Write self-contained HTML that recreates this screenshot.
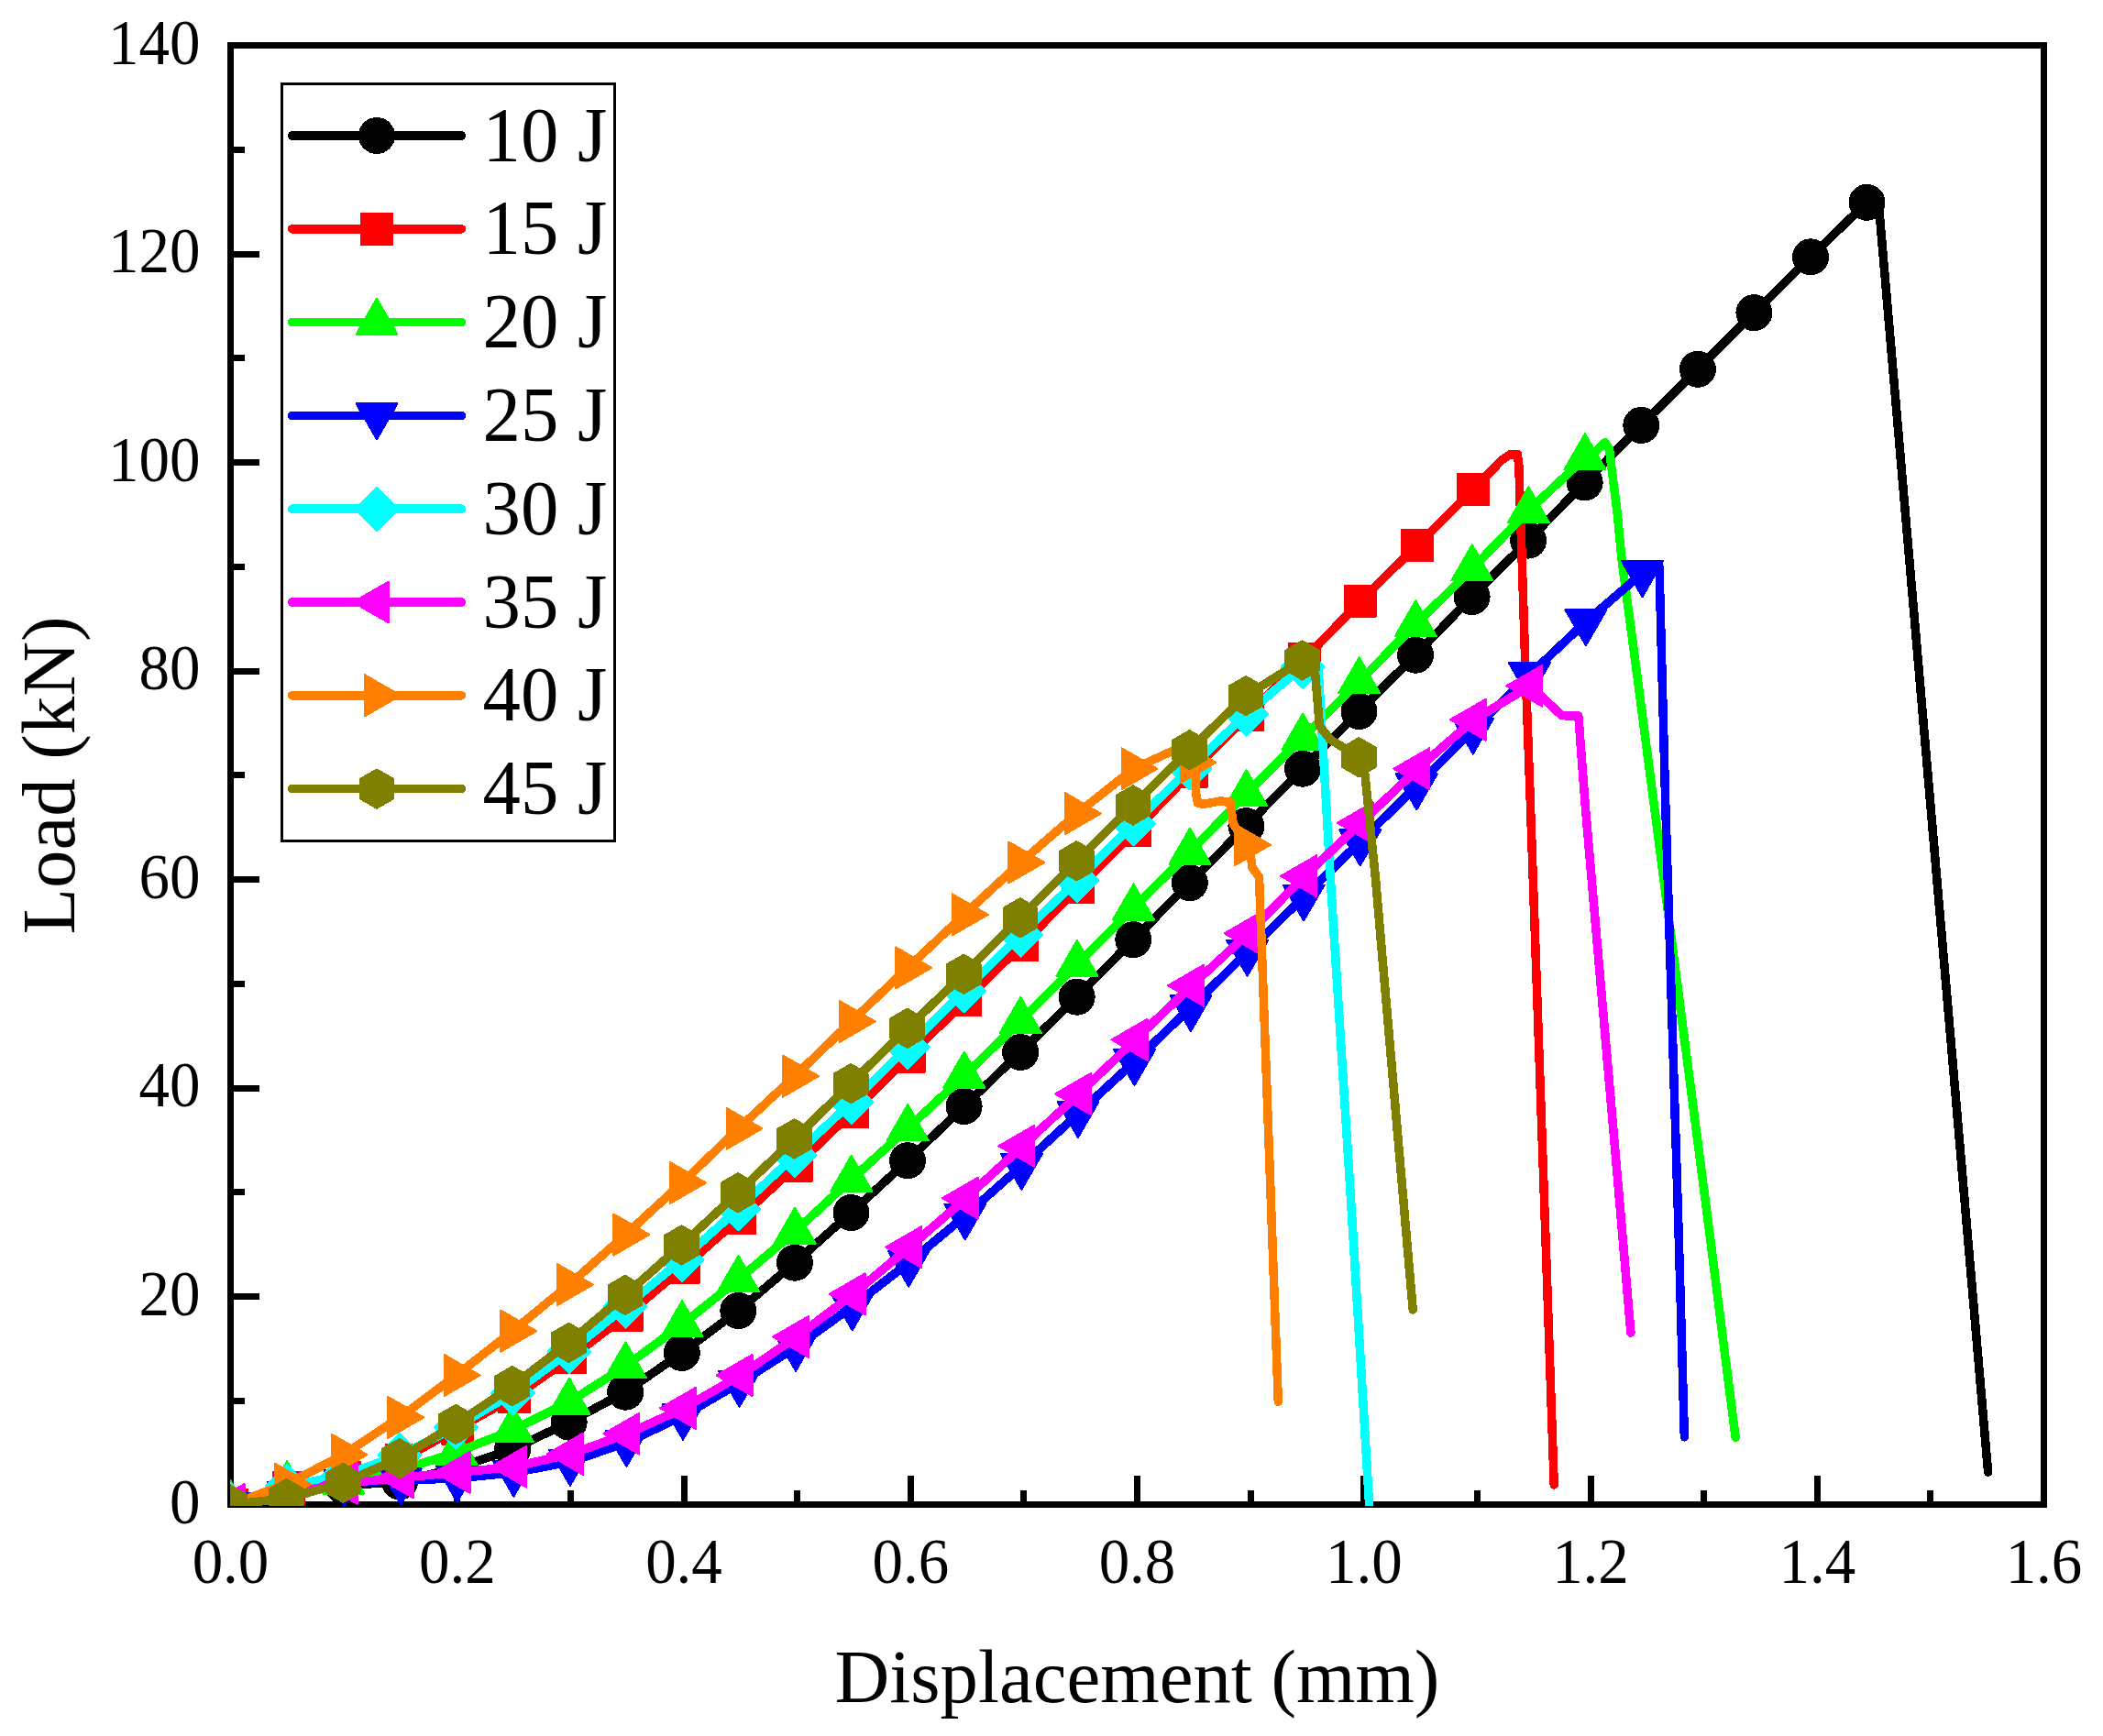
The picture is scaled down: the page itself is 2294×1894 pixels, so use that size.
<!DOCTYPE html>
<html><head><meta charset="utf-8"><title>Load-Displacement</title>
<style>
html,body{margin:0;padding:0;background:#fff;}
body{width:2294px;height:1894px;overflow:hidden;}
svg{display:block;}
text{font-family:"Liberation Serif","Times New Roman",serif;fill:#000;}
.tk{font-size:67px;}
.tt{font-size:82.8px;}
</style></head><body>
<svg width="2294" height="1894" viewBox="0 0 2294 1894">
<rect x="0" y="0" width="2294" height="1894" fill="#fff"/>
<defs><clipPath id="cp"><rect x="251" y="48" width="1980" height="1595"/></clipPath></defs>

<g shape-rendering="crispEdges" stroke="#000" stroke-width="7" fill="none">
<rect x="251.5" y="49.5" width="1978.0" height="1592.0"/>
<line x1="375.12" y1="1641.5" x2="375.12" y2="1626.0"/>
<line x1="498.75" y1="1641.5" x2="498.75" y2="1610.0"/>
<line x1="622.38" y1="1641.5" x2="622.38" y2="1626.0"/>
<line x1="746.00" y1="1641.5" x2="746.00" y2="1610.0"/>
<line x1="869.62" y1="1641.5" x2="869.62" y2="1626.0"/>
<line x1="993.25" y1="1641.5" x2="993.25" y2="1610.0"/>
<line x1="1116.88" y1="1641.5" x2="1116.88" y2="1626.0"/>
<line x1="1240.50" y1="1641.5" x2="1240.50" y2="1610.0"/>
<line x1="1364.12" y1="1641.5" x2="1364.12" y2="1626.0"/>
<line x1="1487.75" y1="1641.5" x2="1487.75" y2="1610.0"/>
<line x1="1611.38" y1="1641.5" x2="1611.38" y2="1626.0"/>
<line x1="1735.00" y1="1641.5" x2="1735.00" y2="1610.0"/>
<line x1="1858.62" y1="1641.5" x2="1858.62" y2="1626.0"/>
<line x1="1982.25" y1="1641.5" x2="1982.25" y2="1610.0"/>
<line x1="2105.88" y1="1641.5" x2="2105.88" y2="1626.0"/>
<line x1="251.5" y1="1528.25" x2="267.0" y2="1528.25"/>
<line x1="251.5" y1="1414.50" x2="283.0" y2="1414.50"/>
<line x1="251.5" y1="1300.75" x2="267.0" y2="1300.75"/>
<line x1="251.5" y1="1187.00" x2="283.0" y2="1187.00"/>
<line x1="251.5" y1="1073.25" x2="267.0" y2="1073.25"/>
<line x1="251.5" y1="959.50" x2="283.0" y2="959.50"/>
<line x1="251.5" y1="845.75" x2="267.0" y2="845.75"/>
<line x1="251.5" y1="732.00" x2="283.0" y2="732.00"/>
<line x1="251.5" y1="618.25" x2="267.0" y2="618.25"/>
<line x1="251.5" y1="504.50" x2="283.0" y2="504.50"/>
<line x1="251.5" y1="390.75" x2="267.0" y2="390.75"/>
<line x1="251.5" y1="277.00" x2="283.0" y2="277.00"/>
<line x1="251.5" y1="163.25" x2="267.0" y2="163.25"/>
</g>
<text class="tk" transform="translate(251.5,1727) scale(1,1.035)" text-anchor="middle">0.0</text>
<text class="tk" transform="translate(498.8,1727) scale(1,1.035)" text-anchor="middle">0.2</text>
<text class="tk" transform="translate(746.0,1727) scale(1,1.035)" text-anchor="middle">0.4</text>
<text class="tk" transform="translate(993.3,1727) scale(1,1.035)" text-anchor="middle">0.6</text>
<text class="tk" transform="translate(1240.5,1727) scale(1,1.035)" text-anchor="middle">0.8</text>
<text class="tk" transform="translate(1487.8,1727) scale(1,1.035)" text-anchor="middle">1.0</text>
<text class="tk" transform="translate(1735.0,1727) scale(1,1.035)" text-anchor="middle">1.2</text>
<text class="tk" transform="translate(1982.3,1727) scale(1,1.035)" text-anchor="middle">1.4</text>
<text class="tk" transform="translate(2229.5,1727) scale(1,1.035)" text-anchor="middle">1.6</text>
<text class="tk" transform="translate(218.5,1662.0) scale(1,1.035)" text-anchor="end">0</text>
<text class="tk" transform="translate(218.5,1434.6) scale(1,1.035)" text-anchor="end">20</text>
<text class="tk" transform="translate(218.5,1207.1) scale(1,1.035)" text-anchor="end">40</text>
<text class="tk" transform="translate(218.5,979.7) scale(1,1.035)" text-anchor="end">60</text>
<text class="tk" transform="translate(218.5,752.3) scale(1,1.035)" text-anchor="end">80</text>
<text class="tk" transform="translate(218.5,524.9) scale(1,1.035)" text-anchor="end">100</text>
<text class="tk" transform="translate(218.5,297.4) scale(1,1.035)" text-anchor="end">120</text>
<text class="tk" transform="translate(218.5,70.0) scale(1,1.035)" text-anchor="end">140</text>
<text class="tt" x="1240.5" y="1857" text-anchor="middle">Displacement (mm)</text>
<text class="tt" transform="translate(81,846) rotate(-90)" text-anchor="middle">Load (kN)</text>
<rect x="307.5" y="91.5" width="363" height="826" fill="#fff" stroke="#000" stroke-width="3" shape-rendering="crispEdges"/>
<g shape-rendering="crispEdges">
<line x1="318.5" y1="148.0" x2="503.5" y2="148.0" stroke="#000000" stroke-width="9.5" stroke-linecap="round"/>
<circle cx="411.0" cy="148.0" r="20" fill="#000000"/>
<line x1="318.5" y1="249.8" x2="503.5" y2="249.8" stroke="#FF0000" stroke-width="9.5" stroke-linecap="round"/>
<rect x="394.0" y="232.8" width="34" height="34" fill="#FF0000" stroke="#FF0000" stroke-width="2" stroke-linejoin="round"/>
<line x1="318.5" y1="351.6" x2="503.5" y2="351.6" stroke="#00FF00" stroke-width="9.5" stroke-linecap="round"/>
<polygon points="411.0,325.6 433.5,364.6 388.5,364.6" fill="#00FF00" stroke="#00FF00" stroke-width="2" stroke-linejoin="round"/>
<line x1="318.5" y1="453.4" x2="503.5" y2="453.4" stroke="#0000FF" stroke-width="9.5" stroke-linecap="round"/>
<polygon points="411.0,479.4 388.5,440.4 433.5,440.4" fill="#0000FF" stroke="#0000FF" stroke-width="2" stroke-linejoin="round"/>
<line x1="318.5" y1="555.2" x2="503.5" y2="555.2" stroke="#00FFFF" stroke-width="9.5" stroke-linecap="round"/>
<polygon points="411.0,531.7 434.5,555.2 411.0,578.7 387.5,555.2" fill="#00FFFF" stroke="#00FFFF" stroke-width="2" stroke-linejoin="round"/>
<line x1="318.5" y1="657.0" x2="503.5" y2="657.0" stroke="#FF00FF" stroke-width="9.5" stroke-linecap="round"/>
<polygon points="385.0,657.0 424.0,634.5 424.0,679.5" fill="#FF00FF" stroke="#FF00FF" stroke-width="2" stroke-linejoin="round"/>
<line x1="318.5" y1="758.8" x2="503.5" y2="758.8" stroke="#FF8000" stroke-width="9.5" stroke-linecap="round"/>
<polygon points="437.0,758.8 398.0,781.3 398.0,736.3" fill="#FF8000" stroke="#FF8000" stroke-width="2" stroke-linejoin="round"/>
<line x1="318.5" y1="860.6" x2="503.5" y2="860.6" stroke="#808000" stroke-width="9.5" stroke-linecap="round"/>
<polygon points="411.0,839.4 429.4,850.0 429.4,871.2 411.0,881.8 392.6,871.2 392.6,850.0" fill="#808000" stroke="#808000" stroke-width="2" stroke-linejoin="round"/>
</g>
<text class="tt" transform="translate(526.5,175.5) scale(1,1.02)">10 J</text>
<text class="tt" transform="translate(526.5,277.3) scale(1,1.02)">15 J</text>
<text class="tt" transform="translate(526.5,379.1) scale(1,1.02)">20 J</text>
<text class="tt" transform="translate(526.5,480.9) scale(1,1.02)">25 J</text>
<text class="tt" transform="translate(526.5,582.7) scale(1,1.02)">30 J</text>
<text class="tt" transform="translate(526.5,684.5) scale(1,1.02)">35 J</text>
<text class="tt" transform="translate(526.5,786.3) scale(1,1.02)">40 J</text>
<text class="tt" transform="translate(526.5,888.1) scale(1,1.02)">45 J</text>
<g clip-path="url(#cp)" shape-rendering="crispEdges">
<path d="M251.3,1641.5 L312.9,1630.1 L374.4,1621.0 L436.0,1616.5 L497.5,1601.7 L559.1,1581.2 L620.7,1551.7 L682.2,1518.7 L743.8,1476.0 L805.3,1430.0 L866.9,1377.7 L928.5,1323.1 L990.0,1266.2 L1051.6,1207.1 L1113.1,1148.0 L1174.7,1087.7 L1236.3,1025.2 L1297.8,963.2 L1359.4,901.2 L1420.9,838.7 L1482.5,776.1 L1544.1,714.7 L1605.6,651.0 L1667.2,589.6 L1728.7,526.4 L1790.3,463.9 L1851.9,402.8 L1913.4,341.2 L1975.0,280.3 L2036.5,220.8 L2049.4,223.5 L2168.6,1606.0" fill="none" stroke="#000000" stroke-width="9.5" stroke-linejoin="round" stroke-linecap="round"/>
<circle cx="251.3" cy="1641.5" r="20" fill="#000000"/>
<circle cx="312.9" cy="1630.1" r="20" fill="#000000"/>
<circle cx="374.4" cy="1621.0" r="20" fill="#000000"/>
<circle cx="436.0" cy="1616.5" r="20" fill="#000000"/>
<circle cx="497.5" cy="1601.7" r="20" fill="#000000"/>
<circle cx="559.1" cy="1581.2" r="20" fill="#000000"/>
<circle cx="620.7" cy="1551.7" r="20" fill="#000000"/>
<circle cx="682.2" cy="1518.7" r="20" fill="#000000"/>
<circle cx="743.8" cy="1476.0" r="20" fill="#000000"/>
<circle cx="805.3" cy="1430.0" r="20" fill="#000000"/>
<circle cx="866.9" cy="1377.7" r="20" fill="#000000"/>
<circle cx="928.5" cy="1323.1" r="20" fill="#000000"/>
<circle cx="990.0" cy="1266.2" r="20" fill="#000000"/>
<circle cx="1051.6" cy="1207.1" r="20" fill="#000000"/>
<circle cx="1113.1" cy="1148.0" r="20" fill="#000000"/>
<circle cx="1174.7" cy="1087.7" r="20" fill="#000000"/>
<circle cx="1236.3" cy="1025.2" r="20" fill="#000000"/>
<circle cx="1297.8" cy="963.2" r="20" fill="#000000"/>
<circle cx="1359.4" cy="901.2" r="20" fill="#000000"/>
<circle cx="1420.9" cy="838.7" r="20" fill="#000000"/>
<circle cx="1482.5" cy="776.1" r="20" fill="#000000"/>
<circle cx="1544.1" cy="714.7" r="20" fill="#000000"/>
<circle cx="1605.6" cy="651.0" r="20" fill="#000000"/>
<circle cx="1667.2" cy="589.6" r="20" fill="#000000"/>
<circle cx="1728.7" cy="526.4" r="20" fill="#000000"/>
<circle cx="1790.3" cy="463.9" r="20" fill="#000000"/>
<circle cx="1851.9" cy="402.8" r="20" fill="#000000"/>
<circle cx="1913.4" cy="341.2" r="20" fill="#000000"/>
<circle cx="1975.0" cy="280.3" r="20" fill="#000000"/>
<circle cx="2036.5" cy="220.8" r="20" fill="#000000"/>
<path d="M253.0,1641.5 L314.6,1623.3 L376.1,1611.9 L437.7,1592.6 L499.2,1558.5 L560.8,1524.4 L622.4,1481.2 L683.9,1434.5 L745.5,1382.8 L807.0,1328.8 L868.6,1271.9 L930.2,1212.8 L991.7,1152.5 L1053.3,1091.1 L1114.8,1030.9 L1176.4,968.3 L1238.0,906.3 L1299.5,842.1 L1361.1,780.1 L1422.6,719.3 L1484.2,655.6 L1545.8,594.8 L1607.3,533.9 L1638.0,502.1 L1647.2,495.8 L1655.3,495.8 L1656.9,508.9 L1663.5,714.7 L1669.5,879.8 L1685.7,1343.6 L1695.2,1619.9" fill="none" stroke="#FF0000" stroke-width="9.5" stroke-linejoin="round" stroke-linecap="round"/>
<rect x="236.0" y="1624.5" width="34" height="34" fill="#FF0000" stroke="#FF0000" stroke-width="2" stroke-linejoin="round"/>
<rect x="297.6" y="1606.3" width="34" height="34" fill="#FF0000" stroke="#FF0000" stroke-width="2" stroke-linejoin="round"/>
<rect x="359.1" y="1594.9" width="34" height="34" fill="#FF0000" stroke="#FF0000" stroke-width="2" stroke-linejoin="round"/>
<rect x="420.7" y="1575.6" width="34" height="34" fill="#FF0000" stroke="#FF0000" stroke-width="2" stroke-linejoin="round"/>
<rect x="482.2" y="1541.5" width="34" height="34" fill="#FF0000" stroke="#FF0000" stroke-width="2" stroke-linejoin="round"/>
<rect x="543.8" y="1507.4" width="34" height="34" fill="#FF0000" stroke="#FF0000" stroke-width="2" stroke-linejoin="round"/>
<rect x="605.4" y="1464.2" width="34" height="34" fill="#FF0000" stroke="#FF0000" stroke-width="2" stroke-linejoin="round"/>
<rect x="666.9" y="1417.5" width="34" height="34" fill="#FF0000" stroke="#FF0000" stroke-width="2" stroke-linejoin="round"/>
<rect x="728.5" y="1365.8" width="34" height="34" fill="#FF0000" stroke="#FF0000" stroke-width="2" stroke-linejoin="round"/>
<rect x="790.0" y="1311.8" width="34" height="34" fill="#FF0000" stroke="#FF0000" stroke-width="2" stroke-linejoin="round"/>
<rect x="851.6" y="1254.9" width="34" height="34" fill="#FF0000" stroke="#FF0000" stroke-width="2" stroke-linejoin="round"/>
<rect x="913.2" y="1195.8" width="34" height="34" fill="#FF0000" stroke="#FF0000" stroke-width="2" stroke-linejoin="round"/>
<rect x="974.7" y="1135.5" width="34" height="34" fill="#FF0000" stroke="#FF0000" stroke-width="2" stroke-linejoin="round"/>
<rect x="1036.3" y="1074.1" width="34" height="34" fill="#FF0000" stroke="#FF0000" stroke-width="2" stroke-linejoin="round"/>
<rect x="1097.8" y="1013.9" width="34" height="34" fill="#FF0000" stroke="#FF0000" stroke-width="2" stroke-linejoin="round"/>
<rect x="1159.4" y="951.3" width="34" height="34" fill="#FF0000" stroke="#FF0000" stroke-width="2" stroke-linejoin="round"/>
<rect x="1221.0" y="889.3" width="34" height="34" fill="#FF0000" stroke="#FF0000" stroke-width="2" stroke-linejoin="round"/>
<rect x="1282.5" y="825.1" width="34" height="34" fill="#FF0000" stroke="#FF0000" stroke-width="2" stroke-linejoin="round"/>
<rect x="1344.1" y="763.1" width="34" height="34" fill="#FF0000" stroke="#FF0000" stroke-width="2" stroke-linejoin="round"/>
<rect x="1405.6" y="702.3" width="34" height="34" fill="#FF0000" stroke="#FF0000" stroke-width="2" stroke-linejoin="round"/>
<rect x="1467.2" y="638.6" width="34" height="34" fill="#FF0000" stroke="#FF0000" stroke-width="2" stroke-linejoin="round"/>
<rect x="1528.8" y="577.8" width="34" height="34" fill="#FF0000" stroke="#FF0000" stroke-width="2" stroke-linejoin="round"/>
<rect x="1590.3" y="516.9" width="34" height="34" fill="#FF0000" stroke="#FF0000" stroke-width="2" stroke-linejoin="round"/>
<path d="M251.5,1641.5 L313.1,1620.2 L374.6,1616.5 L436.2,1604.0 L497.7,1584.6 L559.3,1560.2 L620.9,1529.7 L682.4,1490.3 L744.0,1445.2 L805.5,1395.9 L867.1,1343.6 L928.7,1286.7 L990.2,1231.0 L1051.8,1173.6 L1113.3,1113.9 L1174.9,1051.9 L1236.5,990.5 L1298.0,929.6 L1359.6,866.0 L1421.1,804.6 L1482.7,743.2 L1544.3,681.2 L1605.8,620.3 L1667.4,557.2 L1728.9,499.2 L1742.4,490.7 L1750.9,482.8 L1755.4,489.6 L1757.9,510.0 L1764.2,560.1 L1769.0,610.1 L1786.2,739.7 L1804.5,879.8 L1864.6,1343.6 L1893.1,1568.3" fill="none" stroke="#00FF00" stroke-width="9.5" stroke-linejoin="round" stroke-linecap="round"/>
<polygon points="251.5,1615.5 274.0,1654.5 229.0,1654.5" fill="#00FF00" stroke="#00FF00" stroke-width="2" stroke-linejoin="round"/>
<polygon points="313.1,1594.2 335.6,1633.2 290.5,1633.2" fill="#00FF00" stroke="#00FF00" stroke-width="2" stroke-linejoin="round"/>
<polygon points="374.6,1590.5 397.1,1629.5 352.1,1629.5" fill="#00FF00" stroke="#00FF00" stroke-width="2" stroke-linejoin="round"/>
<polygon points="436.2,1578.0 458.7,1617.0 413.7,1617.0" fill="#00FF00" stroke="#00FF00" stroke-width="2" stroke-linejoin="round"/>
<polygon points="497.7,1558.6 520.3,1597.6 475.2,1597.6" fill="#00FF00" stroke="#00FF00" stroke-width="2" stroke-linejoin="round"/>
<polygon points="559.3,1534.2 581.8,1573.2 536.8,1573.2" fill="#00FF00" stroke="#00FF00" stroke-width="2" stroke-linejoin="round"/>
<polygon points="620.9,1503.7 643.4,1542.7 598.3,1542.7" fill="#00FF00" stroke="#00FF00" stroke-width="2" stroke-linejoin="round"/>
<polygon points="682.4,1464.3 704.9,1503.3 659.9,1503.3" fill="#00FF00" stroke="#00FF00" stroke-width="2" stroke-linejoin="round"/>
<polygon points="744.0,1419.2 766.5,1458.2 721.5,1458.2" fill="#00FF00" stroke="#00FF00" stroke-width="2" stroke-linejoin="round"/>
<polygon points="805.5,1369.9 828.1,1408.9 783.0,1408.9" fill="#00FF00" stroke="#00FF00" stroke-width="2" stroke-linejoin="round"/>
<polygon points="867.1,1317.6 889.6,1356.6 844.6,1356.6" fill="#00FF00" stroke="#00FF00" stroke-width="2" stroke-linejoin="round"/>
<polygon points="928.7,1260.7 951.2,1299.7 906.1,1299.7" fill="#00FF00" stroke="#00FF00" stroke-width="2" stroke-linejoin="round"/>
<polygon points="990.2,1205.0 1012.7,1244.0 967.7,1244.0" fill="#00FF00" stroke="#00FF00" stroke-width="2" stroke-linejoin="round"/>
<polygon points="1051.8,1147.6 1074.3,1186.6 1029.3,1186.6" fill="#00FF00" stroke="#00FF00" stroke-width="2" stroke-linejoin="round"/>
<polygon points="1113.3,1087.9 1135.9,1126.9 1090.8,1126.9" fill="#00FF00" stroke="#00FF00" stroke-width="2" stroke-linejoin="round"/>
<polygon points="1174.9,1025.9 1197.4,1064.9 1152.4,1064.9" fill="#00FF00" stroke="#00FF00" stroke-width="2" stroke-linejoin="round"/>
<polygon points="1236.5,964.5 1259.0,1003.5 1213.9,1003.5" fill="#00FF00" stroke="#00FF00" stroke-width="2" stroke-linejoin="round"/>
<polygon points="1298.0,903.6 1320.5,942.6 1275.5,942.6" fill="#00FF00" stroke="#00FF00" stroke-width="2" stroke-linejoin="round"/>
<polygon points="1359.6,840.0 1382.1,879.0 1337.1,879.0" fill="#00FF00" stroke="#00FF00" stroke-width="2" stroke-linejoin="round"/>
<polygon points="1421.1,778.6 1443.7,817.6 1398.6,817.6" fill="#00FF00" stroke="#00FF00" stroke-width="2" stroke-linejoin="round"/>
<polygon points="1482.7,717.2 1505.2,756.2 1460.2,756.2" fill="#00FF00" stroke="#00FF00" stroke-width="2" stroke-linejoin="round"/>
<polygon points="1544.3,655.2 1566.8,694.2 1521.7,694.2" fill="#00FF00" stroke="#00FF00" stroke-width="2" stroke-linejoin="round"/>
<polygon points="1605.8,594.3 1628.3,633.3 1583.3,633.3" fill="#00FF00" stroke="#00FF00" stroke-width="2" stroke-linejoin="round"/>
<polygon points="1667.4,531.2 1689.9,570.2 1644.9,570.2" fill="#00FF00" stroke="#00FF00" stroke-width="2" stroke-linejoin="round"/>
<polygon points="1728.9,473.2 1751.5,512.2 1706.4,512.2" fill="#00FF00" stroke="#00FF00" stroke-width="2" stroke-linejoin="round"/>
<path d="M252.5,1641.5 L314.1,1630.1 L375.6,1616.5 L437.2,1615.3 L498.7,1612.8 L560.3,1606.7 L621.9,1594.9 L683.4,1574.0 L745.0,1544.8 L806.5,1508.9 L868.1,1469.8 L929.7,1425.4 L991.2,1377.7 L1052.8,1326.5 L1114.3,1271.9 L1175.9,1215.1 L1237.5,1158.2 L1299.0,1099.1 L1360.6,1038.8 L1422.1,978.5 L1483.7,918.3 L1545.3,857.4 L1606.8,796.6 L1668.4,736.3 L1729.9,678.3 L1791.5,625.3 L1810.0,618.1 L1816.8,879.8 L1831.3,1351.5 L1837.4,1567.9" fill="none" stroke="#0000FF" stroke-width="9.5" stroke-linejoin="round" stroke-linecap="round"/>
<polygon points="252.5,1667.5 230.0,1628.5 275.0,1628.5" fill="#0000FF" stroke="#0000FF" stroke-width="2" stroke-linejoin="round"/>
<polygon points="314.1,1656.1 291.5,1617.1 336.6,1617.1" fill="#0000FF" stroke="#0000FF" stroke-width="2" stroke-linejoin="round"/>
<polygon points="375.6,1642.5 353.1,1603.5 398.1,1603.5" fill="#0000FF" stroke="#0000FF" stroke-width="2" stroke-linejoin="round"/>
<polygon points="437.2,1641.3 414.7,1602.3 459.7,1602.3" fill="#0000FF" stroke="#0000FF" stroke-width="2" stroke-linejoin="round"/>
<polygon points="498.7,1638.8 476.2,1599.8 521.3,1599.8" fill="#0000FF" stroke="#0000FF" stroke-width="2" stroke-linejoin="round"/>
<polygon points="560.3,1632.7 537.8,1593.7 582.8,1593.7" fill="#0000FF" stroke="#0000FF" stroke-width="2" stroke-linejoin="round"/>
<polygon points="621.9,1620.9 599.3,1581.9 644.4,1581.9" fill="#0000FF" stroke="#0000FF" stroke-width="2" stroke-linejoin="round"/>
<polygon points="683.4,1600.0 660.9,1561.0 705.9,1561.0" fill="#0000FF" stroke="#0000FF" stroke-width="2" stroke-linejoin="round"/>
<polygon points="745.0,1570.8 722.5,1531.8 767.5,1531.8" fill="#0000FF" stroke="#0000FF" stroke-width="2" stroke-linejoin="round"/>
<polygon points="806.5,1534.9 784.0,1495.9 829.1,1495.9" fill="#0000FF" stroke="#0000FF" stroke-width="2" stroke-linejoin="round"/>
<polygon points="868.1,1495.8 845.6,1456.8 890.6,1456.8" fill="#0000FF" stroke="#0000FF" stroke-width="2" stroke-linejoin="round"/>
<polygon points="929.7,1451.4 907.1,1412.4 952.2,1412.4" fill="#0000FF" stroke="#0000FF" stroke-width="2" stroke-linejoin="round"/>
<polygon points="991.2,1403.7 968.7,1364.7 1013.7,1364.7" fill="#0000FF" stroke="#0000FF" stroke-width="2" stroke-linejoin="round"/>
<polygon points="1052.8,1352.5 1030.3,1313.5 1075.3,1313.5" fill="#0000FF" stroke="#0000FF" stroke-width="2" stroke-linejoin="round"/>
<polygon points="1114.3,1297.9 1091.8,1258.9 1136.9,1258.9" fill="#0000FF" stroke="#0000FF" stroke-width="2" stroke-linejoin="round"/>
<polygon points="1175.9,1241.1 1153.4,1202.1 1198.4,1202.1" fill="#0000FF" stroke="#0000FF" stroke-width="2" stroke-linejoin="round"/>
<polygon points="1237.5,1184.2 1214.9,1145.2 1260.0,1145.2" fill="#0000FF" stroke="#0000FF" stroke-width="2" stroke-linejoin="round"/>
<polygon points="1299.0,1125.1 1276.5,1086.1 1321.5,1086.1" fill="#0000FF" stroke="#0000FF" stroke-width="2" stroke-linejoin="round"/>
<polygon points="1360.6,1064.8 1338.1,1025.8 1383.1,1025.8" fill="#0000FF" stroke="#0000FF" stroke-width="2" stroke-linejoin="round"/>
<polygon points="1422.1,1004.5 1399.6,965.5 1444.7,965.5" fill="#0000FF" stroke="#0000FF" stroke-width="2" stroke-linejoin="round"/>
<polygon points="1483.7,944.3 1461.2,905.3 1506.2,905.3" fill="#0000FF" stroke="#0000FF" stroke-width="2" stroke-linejoin="round"/>
<polygon points="1545.3,883.4 1522.7,844.4 1567.8,844.4" fill="#0000FF" stroke="#0000FF" stroke-width="2" stroke-linejoin="round"/>
<polygon points="1606.8,822.6 1584.3,783.6 1629.3,783.6" fill="#0000FF" stroke="#0000FF" stroke-width="2" stroke-linejoin="round"/>
<polygon points="1668.4,762.3 1645.9,723.3 1690.9,723.3" fill="#0000FF" stroke="#0000FF" stroke-width="2" stroke-linejoin="round"/>
<polygon points="1729.9,704.3 1707.4,665.3 1752.5,665.3" fill="#0000FF" stroke="#0000FF" stroke-width="2" stroke-linejoin="round"/>
<polygon points="1791.5,651.3 1769.0,612.3 1814.0,612.3" fill="#0000FF" stroke="#0000FF" stroke-width="2" stroke-linejoin="round"/>
<path d="M251.5,1641.5 L313.1,1621.6 L374.6,1609.7 L436.2,1587.5 L497.7,1556.8 L559.3,1520.2 L620.9,1474.9 L682.4,1425.4 L744.0,1374.3 L805.5,1318.6 L867.1,1260.6 L928.7,1202.6 L990.2,1142.3 L1051.8,1080.9 L1113.3,1020.1 L1174.9,960.4 L1236.5,898.9 L1298.0,838.1 L1359.6,779.0 L1421.1,727.2 L1438.1,729.5 L1443.9,830.1 L1451.4,959.9 L1475.5,1340.2 L1493.6,1641.5 L1495.7,1675.6" fill="none" stroke="#00FFFF" stroke-width="9.5" stroke-linejoin="round" stroke-linecap="round"/>
<polygon points="251.5,1618.0 275.0,1641.5 251.5,1665.0 228.0,1641.5" fill="#00FFFF" stroke="#00FFFF" stroke-width="2" stroke-linejoin="round"/>
<polygon points="313.1,1598.1 336.6,1621.6 313.1,1645.1 289.6,1621.6" fill="#00FFFF" stroke="#00FFFF" stroke-width="2" stroke-linejoin="round"/>
<polygon points="374.6,1586.2 398.1,1609.7 374.6,1633.2 351.1,1609.7" fill="#00FFFF" stroke="#00FFFF" stroke-width="2" stroke-linejoin="round"/>
<polygon points="436.2,1564.0 459.7,1587.5 436.2,1611.0 412.7,1587.5" fill="#00FFFF" stroke="#00FFFF" stroke-width="2" stroke-linejoin="round"/>
<polygon points="497.7,1533.3 521.2,1556.8 497.7,1580.3 474.2,1556.8" fill="#00FFFF" stroke="#00FFFF" stroke-width="2" stroke-linejoin="round"/>
<polygon points="559.3,1496.7 582.8,1520.2 559.3,1543.7 535.8,1520.2" fill="#00FFFF" stroke="#00FFFF" stroke-width="2" stroke-linejoin="round"/>
<polygon points="620.9,1451.4 644.4,1474.9 620.9,1498.4 597.4,1474.9" fill="#00FFFF" stroke="#00FFFF" stroke-width="2" stroke-linejoin="round"/>
<polygon points="682.4,1401.9 705.9,1425.4 682.4,1448.9 658.9,1425.4" fill="#00FFFF" stroke="#00FFFF" stroke-width="2" stroke-linejoin="round"/>
<polygon points="744.0,1350.8 767.5,1374.3 744.0,1397.8 720.5,1374.3" fill="#00FFFF" stroke="#00FFFF" stroke-width="2" stroke-linejoin="round"/>
<polygon points="805.5,1295.1 829.0,1318.6 805.5,1342.1 782.0,1318.6" fill="#00FFFF" stroke="#00FFFF" stroke-width="2" stroke-linejoin="round"/>
<polygon points="867.1,1237.1 890.6,1260.6 867.1,1284.1 843.6,1260.6" fill="#00FFFF" stroke="#00FFFF" stroke-width="2" stroke-linejoin="round"/>
<polygon points="928.7,1179.1 952.2,1202.6 928.7,1226.1 905.2,1202.6" fill="#00FFFF" stroke="#00FFFF" stroke-width="2" stroke-linejoin="round"/>
<polygon points="990.2,1118.8 1013.7,1142.3 990.2,1165.8 966.7,1142.3" fill="#00FFFF" stroke="#00FFFF" stroke-width="2" stroke-linejoin="round"/>
<polygon points="1051.8,1057.4 1075.3,1080.9 1051.8,1104.4 1028.3,1080.9" fill="#00FFFF" stroke="#00FFFF" stroke-width="2" stroke-linejoin="round"/>
<polygon points="1113.3,996.6 1136.8,1020.1 1113.3,1043.6 1089.8,1020.1" fill="#00FFFF" stroke="#00FFFF" stroke-width="2" stroke-linejoin="round"/>
<polygon points="1174.9,936.9 1198.4,960.4 1174.9,983.9 1151.4,960.4" fill="#00FFFF" stroke="#00FFFF" stroke-width="2" stroke-linejoin="round"/>
<polygon points="1236.5,875.4 1260.0,898.9 1236.5,922.4 1213.0,898.9" fill="#00FFFF" stroke="#00FFFF" stroke-width="2" stroke-linejoin="round"/>
<polygon points="1298.0,814.6 1321.5,838.1 1298.0,861.6 1274.5,838.1" fill="#00FFFF" stroke="#00FFFF" stroke-width="2" stroke-linejoin="round"/>
<polygon points="1359.6,755.5 1383.1,779.0 1359.6,802.5 1336.1,779.0" fill="#00FFFF" stroke="#00FFFF" stroke-width="2" stroke-linejoin="round"/>
<polygon points="1421.1,703.7 1444.6,727.2 1421.1,750.7 1397.6,727.2" fill="#00FFFF" stroke="#00FFFF" stroke-width="2" stroke-linejoin="round"/>
<path d="M253.5,1641.5 L315.1,1629.0 L376.6,1618.4 L438.2,1612.0 L499.7,1606.4 L561.3,1600.2 L622.9,1586.2 L684.4,1564.2 L746.0,1536.3 L807.5,1500.5 L869.1,1458.4 L930.7,1411.8 L992.2,1360.6 L1053.8,1307.2 L1115.3,1250.3 L1176.9,1193.5 L1238.5,1134.3 L1300.0,1075.2 L1361.6,1018.3 L1423.1,955.8 L1484.7,897.8 L1546.3,838.7 L1607.8,785.2 L1669.4,748.3 L1703.6,780.7 L1721.8,781.0 L1729.3,879.8 L1769.4,1342.4 L1778.9,1454.1" fill="none" stroke="#FF00FF" stroke-width="9.5" stroke-linejoin="round" stroke-linecap="round"/>
<polygon points="227.5,1641.5 266.5,1619.0 266.5,1664.0" fill="#FF00FF" stroke="#FF00FF" stroke-width="2" stroke-linejoin="round"/>
<polygon points="289.1,1629.0 328.1,1606.5 328.1,1651.5" fill="#FF00FF" stroke="#FF00FF" stroke-width="2" stroke-linejoin="round"/>
<polygon points="350.6,1618.4 389.6,1595.9 389.6,1640.9" fill="#FF00FF" stroke="#FF00FF" stroke-width="2" stroke-linejoin="round"/>
<polygon points="412.2,1612.0 451.2,1589.5 451.2,1634.6" fill="#FF00FF" stroke="#FF00FF" stroke-width="2" stroke-linejoin="round"/>
<polygon points="473.7,1606.4 512.7,1583.8 512.7,1628.9" fill="#FF00FF" stroke="#FF00FF" stroke-width="2" stroke-linejoin="round"/>
<polygon points="535.3,1600.2 574.3,1577.7 574.3,1622.7" fill="#FF00FF" stroke="#FF00FF" stroke-width="2" stroke-linejoin="round"/>
<polygon points="596.9,1586.2 635.9,1563.7 635.9,1608.8" fill="#FF00FF" stroke="#FF00FF" stroke-width="2" stroke-linejoin="round"/>
<polygon points="658.4,1564.2 697.4,1541.7 697.4,1586.7" fill="#FF00FF" stroke="#FF00FF" stroke-width="2" stroke-linejoin="round"/>
<polygon points="720.0,1536.3 759.0,1513.8 759.0,1558.8" fill="#FF00FF" stroke="#FF00FF" stroke-width="2" stroke-linejoin="round"/>
<polygon points="781.5,1500.5 820.5,1478.0 820.5,1523.0" fill="#FF00FF" stroke="#FF00FF" stroke-width="2" stroke-linejoin="round"/>
<polygon points="843.1,1458.4 882.1,1435.9 882.1,1480.9" fill="#FF00FF" stroke="#FF00FF" stroke-width="2" stroke-linejoin="round"/>
<polygon points="904.7,1411.8 943.7,1389.3 943.7,1434.3" fill="#FF00FF" stroke="#FF00FF" stroke-width="2" stroke-linejoin="round"/>
<polygon points="966.2,1360.6 1005.2,1338.1 1005.2,1383.1" fill="#FF00FF" stroke="#FF00FF" stroke-width="2" stroke-linejoin="round"/>
<polygon points="1027.8,1307.2 1066.8,1284.7 1066.8,1329.7" fill="#FF00FF" stroke="#FF00FF" stroke-width="2" stroke-linejoin="round"/>
<polygon points="1089.3,1250.3 1128.3,1227.8 1128.3,1272.8" fill="#FF00FF" stroke="#FF00FF" stroke-width="2" stroke-linejoin="round"/>
<polygon points="1150.9,1193.5 1189.9,1170.9 1189.9,1216.0" fill="#FF00FF" stroke="#FF00FF" stroke-width="2" stroke-linejoin="round"/>
<polygon points="1212.5,1134.3 1251.5,1111.8 1251.5,1156.9" fill="#FF00FF" stroke="#FF00FF" stroke-width="2" stroke-linejoin="round"/>
<polygon points="1274.0,1075.2 1313.0,1052.7 1313.0,1097.7" fill="#FF00FF" stroke="#FF00FF" stroke-width="2" stroke-linejoin="round"/>
<polygon points="1335.6,1018.3 1374.6,995.8 1374.6,1040.9" fill="#FF00FF" stroke="#FF00FF" stroke-width="2" stroke-linejoin="round"/>
<polygon points="1397.1,955.8 1436.1,933.3 1436.1,978.3" fill="#FF00FF" stroke="#FF00FF" stroke-width="2" stroke-linejoin="round"/>
<polygon points="1458.7,897.8 1497.7,875.3 1497.7,920.3" fill="#FF00FF" stroke="#FF00FF" stroke-width="2" stroke-linejoin="round"/>
<polygon points="1520.3,838.7 1559.3,816.2 1559.3,861.2" fill="#FF00FF" stroke="#FF00FF" stroke-width="2" stroke-linejoin="round"/>
<polygon points="1581.8,785.2 1620.8,762.7 1620.8,807.7" fill="#FF00FF" stroke="#FF00FF" stroke-width="2" stroke-linejoin="round"/>
<polygon points="1643.4,748.3 1682.4,725.8 1682.4,770.8" fill="#FF00FF" stroke="#FF00FF" stroke-width="2" stroke-linejoin="round"/>
<path d="M251.5,1641.5 L313.1,1619.2 L374.6,1587.1 L436.2,1546.4 L497.7,1500.5 L559.3,1452.2 L620.9,1401.6 L682.4,1347.0 L744.0,1290.5 L805.5,1231.3 L867.1,1174.1 L928.7,1114.4 L990.2,1055.9 L1051.8,997.9 L1113.3,941.0 L1174.9,887.6 L1236.5,838.7 L1283.8,817.1 L1300.5,831.9 L1304.4,845.5 L1304.4,864.8 L1306.6,876.2 L1312.9,877.3 L1331.5,873.9 L1341.9,875.1 L1345.3,898.9 L1360.0,921.7 L1365.0,938.2 L1366.1,946.7 L1373.5,956.9 L1394.3,1529.3" fill="none" stroke="#FF8000" stroke-width="9.5" stroke-linejoin="round" stroke-linecap="round"/>
<polygon points="277.5,1641.5 238.5,1664.0 238.5,1619.0" fill="#FF8000" stroke="#FF8000" stroke-width="2" stroke-linejoin="round"/>
<polygon points="339.1,1619.2 300.1,1641.7 300.1,1596.7" fill="#FF8000" stroke="#FF8000" stroke-width="2" stroke-linejoin="round"/>
<polygon points="400.6,1587.1 361.6,1609.7 361.6,1564.6" fill="#FF8000" stroke="#FF8000" stroke-width="2" stroke-linejoin="round"/>
<polygon points="462.2,1546.4 423.2,1569.0 423.2,1523.9" fill="#FF8000" stroke="#FF8000" stroke-width="2" stroke-linejoin="round"/>
<polygon points="523.7,1500.5 484.7,1523.0 484.7,1478.0" fill="#FF8000" stroke="#FF8000" stroke-width="2" stroke-linejoin="round"/>
<polygon points="585.3,1452.2 546.3,1474.7 546.3,1429.6" fill="#FF8000" stroke="#FF8000" stroke-width="2" stroke-linejoin="round"/>
<polygon points="646.9,1401.6 607.9,1424.1 607.9,1379.0" fill="#FF8000" stroke="#FF8000" stroke-width="2" stroke-linejoin="round"/>
<polygon points="708.4,1347.0 669.4,1369.5 669.4,1324.5" fill="#FF8000" stroke="#FF8000" stroke-width="2" stroke-linejoin="round"/>
<polygon points="770.0,1290.5 731.0,1313.0 731.0,1267.9" fill="#FF8000" stroke="#FF8000" stroke-width="2" stroke-linejoin="round"/>
<polygon points="831.5,1231.3 792.5,1253.8 792.5,1208.8" fill="#FF8000" stroke="#FF8000" stroke-width="2" stroke-linejoin="round"/>
<polygon points="893.1,1174.1 854.1,1196.7 854.1,1151.6" fill="#FF8000" stroke="#FF8000" stroke-width="2" stroke-linejoin="round"/>
<polygon points="954.7,1114.4 915.7,1137.0 915.7,1091.9" fill="#FF8000" stroke="#FF8000" stroke-width="2" stroke-linejoin="round"/>
<polygon points="1016.2,1055.9 977.2,1078.4 977.2,1033.4" fill="#FF8000" stroke="#FF8000" stroke-width="2" stroke-linejoin="round"/>
<polygon points="1077.8,997.9 1038.8,1020.4 1038.8,975.4" fill="#FF8000" stroke="#FF8000" stroke-width="2" stroke-linejoin="round"/>
<polygon points="1139.3,941.0 1100.3,963.5 1100.3,918.5" fill="#FF8000" stroke="#FF8000" stroke-width="2" stroke-linejoin="round"/>
<polygon points="1200.9,887.6 1161.9,910.1 1161.9,865.1" fill="#FF8000" stroke="#FF8000" stroke-width="2" stroke-linejoin="round"/>
<polygon points="1262.5,838.7 1223.5,861.2 1223.5,816.2" fill="#FF8000" stroke="#FF8000" stroke-width="2" stroke-linejoin="round"/>
<polygon points="1326.5,831.9 1287.5,854.4 1287.5,809.3" fill="#FF8000" stroke="#FF8000" stroke-width="2" stroke-linejoin="round"/>
<polygon points="1386.0,921.7 1347.0,944.2 1347.0,899.2" fill="#FF8000" stroke="#FF8000" stroke-width="2" stroke-linejoin="round"/>
<path d="M251.0,1641.5 L312.6,1634.9 L374.1,1617.8 L435.7,1591.1 L497.2,1553.9 L558.8,1512.1 L620.4,1464.9 L681.9,1412.9 L743.5,1358.4 L805.0,1301.2 L866.6,1242.4 L928.2,1182.1 L989.7,1121.8 L1051.3,1062.7 L1112.8,1001.3 L1174.4,939.3 L1236.0,878.5 L1297.5,818.2 L1359.1,759.1 L1420.6,720.4 L1434.8,736.3 L1436.3,754.5 L1439.4,792.1 L1451.2,806.8 L1482.3,826.2 L1489.0,845.5 L1500.6,959.8 L1533.5,1340.2 L1541.2,1428.9" fill="none" stroke="#808000" stroke-width="9.5" stroke-linejoin="round" stroke-linecap="round"/>
<polygon points="251.0,1620.3 269.4,1630.9 269.4,1652.1 251.0,1662.7 232.6,1652.1 232.6,1630.9" fill="#808000" stroke="#808000" stroke-width="2" stroke-linejoin="round"/>
<polygon points="312.6,1613.7 330.9,1624.3 330.9,1645.5 312.6,1656.1 294.2,1645.5 294.2,1624.3" fill="#808000" stroke="#808000" stroke-width="2" stroke-linejoin="round"/>
<polygon points="374.1,1596.6 392.5,1607.2 392.5,1628.4 374.1,1639.0 355.8,1628.4 355.8,1607.2" fill="#808000" stroke="#808000" stroke-width="2" stroke-linejoin="round"/>
<polygon points="435.7,1569.9 454.0,1580.5 454.0,1601.7 435.7,1612.3 417.3,1601.7 417.3,1580.5" fill="#808000" stroke="#808000" stroke-width="2" stroke-linejoin="round"/>
<polygon points="497.2,1532.7 515.6,1543.3 515.6,1564.5 497.2,1575.1 478.9,1564.5 478.9,1543.3" fill="#808000" stroke="#808000" stroke-width="2" stroke-linejoin="round"/>
<polygon points="558.8,1490.9 577.2,1501.5 577.2,1522.7 558.8,1533.3 540.4,1522.7 540.4,1501.5" fill="#808000" stroke="#808000" stroke-width="2" stroke-linejoin="round"/>
<polygon points="620.4,1443.7 638.7,1454.3 638.7,1475.5 620.4,1486.1 602.0,1475.5 602.0,1454.3" fill="#808000" stroke="#808000" stroke-width="2" stroke-linejoin="round"/>
<polygon points="681.9,1391.7 700.3,1402.3 700.3,1423.5 681.9,1434.1 663.6,1423.5 663.6,1402.3" fill="#808000" stroke="#808000" stroke-width="2" stroke-linejoin="round"/>
<polygon points="743.5,1337.2 761.8,1347.8 761.8,1369.0 743.5,1379.6 725.1,1369.0 725.1,1347.8" fill="#808000" stroke="#808000" stroke-width="2" stroke-linejoin="round"/>
<polygon points="805.0,1280.0 823.4,1290.6 823.4,1311.8 805.0,1322.4 786.7,1311.8 786.7,1290.6" fill="#808000" stroke="#808000" stroke-width="2" stroke-linejoin="round"/>
<polygon points="866.6,1221.2 885.0,1231.8 885.0,1253.0 866.6,1263.6 848.2,1253.0 848.2,1231.8" fill="#808000" stroke="#808000" stroke-width="2" stroke-linejoin="round"/>
<polygon points="928.2,1160.9 946.5,1171.5 946.5,1192.7 928.2,1203.3 909.8,1192.7 909.8,1171.5" fill="#808000" stroke="#808000" stroke-width="2" stroke-linejoin="round"/>
<polygon points="989.7,1100.6 1008.1,1111.2 1008.1,1132.4 989.7,1143.0 971.4,1132.4 971.4,1111.2" fill="#808000" stroke="#808000" stroke-width="2" stroke-linejoin="round"/>
<polygon points="1051.3,1041.5 1069.6,1052.1 1069.6,1073.3 1051.3,1083.9 1032.9,1073.3 1032.9,1052.1" fill="#808000" stroke="#808000" stroke-width="2" stroke-linejoin="round"/>
<polygon points="1112.8,980.1 1131.2,990.7 1131.2,1011.9 1112.8,1022.5 1094.5,1011.9 1094.5,990.7" fill="#808000" stroke="#808000" stroke-width="2" stroke-linejoin="round"/>
<polygon points="1174.4,918.1 1192.8,928.7 1192.8,949.9 1174.4,960.5 1156.0,949.9 1156.0,928.7" fill="#808000" stroke="#808000" stroke-width="2" stroke-linejoin="round"/>
<polygon points="1236.0,857.3 1254.3,867.9 1254.3,889.1 1236.0,899.7 1217.6,889.1 1217.6,867.9" fill="#808000" stroke="#808000" stroke-width="2" stroke-linejoin="round"/>
<polygon points="1297.5,797.0 1315.9,807.6 1315.9,828.8 1297.5,839.4 1279.2,828.8 1279.2,807.6" fill="#808000" stroke="#808000" stroke-width="2" stroke-linejoin="round"/>
<polygon points="1359.1,737.9 1377.4,748.5 1377.4,769.7 1359.1,780.3 1340.7,769.7 1340.7,748.5" fill="#808000" stroke="#808000" stroke-width="2" stroke-linejoin="round"/>
<polygon points="1420.6,699.2 1439.0,709.8 1439.0,731.0 1420.6,741.6 1402.3,731.0 1402.3,709.8" fill="#808000" stroke="#808000" stroke-width="2" stroke-linejoin="round"/>
<polygon points="1482.3,805.0 1500.7,815.6 1500.7,836.8 1482.3,847.4 1464.0,836.8 1464.0,815.6" fill="#808000" stroke="#808000" stroke-width="2" stroke-linejoin="round"/>
</g>
</svg></body></html>
